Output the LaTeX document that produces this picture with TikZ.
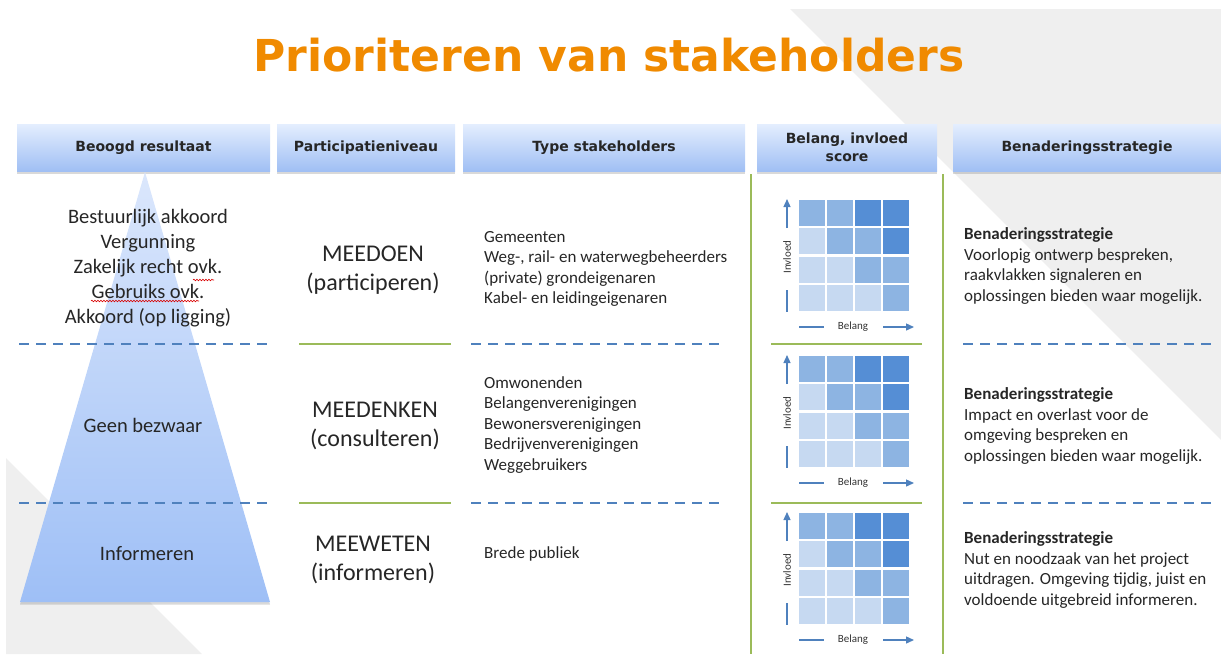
\documentclass[tikz,border=0pt]{standalone}
\usepackage{fontspec}
\setmainfont{Carlito}
\newfontfamily\verdana{DejaVu Sans}
\usetikzlibrary{arrows.meta,shadows,decorations.pathmorphing}

\definecolor{oranje}{RGB}{240,138,0}
\definecolor{bggray}{RGB}{239,239,239}
\definecolor{hdrtop}{RGB}{228,238,254}
\definecolor{hdrbot}{RGB}{160,191,244}
\definecolor{pyrtop}{RGB}{219,231,252}
\definecolor{pyrbot}{RGB}{158,191,246}
\definecolor{sepblue}{RGB}{79,129,189}
\definecolor{sepgreen}{RGB}{155,187,89}
\definecolor{scorel}{RGB}{198,217,241}
\definecolor{scorem}{RGB}{141,180,226}
\definecolor{scored}{RGB}{85,142,213}

\begin{document}
\begin{tikzpicture}[x=1pt,y=-1pt,>={Triangle[length=8pt,width=7pt]},
    header/.style={top color=hdrtop,bottom color=hdrbot,minimum height=47pt,
      align=center,text=black!85,font=\verdana\bfseries\fontsize{14}{18}\selectfont,
      drop shadow={shadow xshift=0pt,shadow yshift=-2.5pt,opacity=.3}},
    result/.style={inner sep=0pt,align=center,text=black!85,font=\fontsize{20.5}{25}\selectfont},
    level/.style={inner sep=0pt,align=center,text=black!85,font=\fontsize{24}{29}\selectfont},
    group/.style={inner sep=0pt,anchor=west,align=left,text=black!85,font=\fontsize{17}{20.5}\selectfont},
    small/.style={inner sep=0pt,text=black!80,font=\fontsize{11}{13}\selectfont},
    dashsep/.style={sepblue,line width=2.2pt,dash pattern=on 10pt off 7pt},
    greensep/.style={sepgreen,line width=2.5pt},
    axis/.style={sepblue,line width=1.3pt},
    spell/.style={red!85!black,line width=.6pt,decorate,
      decoration={snake,amplitude=.8pt,segment length=3pt}}]
\useasboundingbox (0,0) rectangle (1221,654);

% background
\fill[bggray] (790,9) -- (1221,9) -- (1221,440) -- cycle;
\fill[bggray] (6,458) -- (202,654) -- (6,654) -- cycle;

% title
\node[text=oranje,font=\verdana\bfseries\fontsize{44}{50}\selectfont,anchor=base] (title) at (609,71) {Prioriteren van stakeholders};

% headers
\node[header,minimum width=253pt] (res)   at (143.5,147.5) {Beoogd resultaat};
\node[header,minimum width=178pt] (niv)   at (366,147.5)   {Participatieniveau};
\node[header,minimum width=282pt] (typ)   at (604,147.5)   {Type stakeholders};
\node[header,minimum width=180pt] (score) at (847,147.5)   {Belang, invloed\\score};
\node[header,minimum width=268pt] (strat) at (1087,147.5)  {Benaderingsstrategie};

% pyramid
\shade[top color=pyrtop,bottom color=pyrbot,drop shadow={shadow xshift=0pt,shadow yshift=-2.5pt,opacity=.3}]
  (145,172) -- (270,602) -- (20,602) -- cycle;

% separators
\foreach \y in {344,503} {
  \draw[dashsep] (19,\y) -- (270,\y);
  \draw[dashsep] (471,\y) -- (722,\y);
  \draw[dashsep] (963,\y) -- (1215,\y);
  \draw[greensep] (299,\y) -- (451,\y);
  \draw[greensep] (771,\y) -- (922,\y);
}
\draw[greensep] (751,174) -- (751,654);
\draw[greensep] (943,174) -- (943,654);

% score grids
\foreach \gy [count=\g] in {199,355,512} {
  \foreach \row/\cells in {0/{m,m,d,d},1/{l,m,m,d},2/{l,l,m,m},3/{l,l,l,m}}
    \foreach \c [count=\col from 0] in \cells
      \fill[score\c] ({799+28*\col},{\gy+1+28.25*\row}) rectangle +(26,26.2);
  \draw[axis,->] (787,\gy+29) -- (787,\gy);
  \node[small,rotate=90] (inv\g) at (787,\gy+58) {Invloed};
  \draw[axis] (787,\gy+91) -- (787,\gy+113);
  \node[small] (bel\g) at (853,\gy+128) {Belang};
  \draw[axis] (799,\gy+128) -- (824,\gy+128);
  \draw[axis,->] (883,\gy+128) -- (914,\gy+128);
}

% column texts
\node[result] (res1) at (148,268) {Bestuurlijk akkoord\\Vergunning\\Zakelijk recht ovk.\\Gebruiks ovk.\\Akkoord (op ligging)};
\node[result] (res2) at (143,425) {Geen bezwaar};
\node[result] (res3) at (147,554) {Informeren};
\draw[spell] (193,280) -- (214,280);
\draw[spell] (91,301) -- (199,301);

\node[level] (niv1) at (373,270) {MEEDOEN\\(participeren)};
\node[level] (niv2) at (375,426) {MEEDENKEN\\(consulteren)};
\node[level] (niv3) at (373,560) {MEEWETEN\\(informeren)};

\node[group] (typ1) at (484,269) {Gemeenten\\Weg-, rail- en waterwegbeheerders\\(private) grondeigenaren\\Kabel- en leidingeigenaren};
\node[group] (typ2) at (484,425) {Omwonenden\\Belangenverenigingen\\Bewonersverenigingen\\Bedrijvenverenigingen\\Weggebruikers};
\node[group] (typ3) at (484,554) {Brede publiek};

\node[group] (str1) at (964,266) {\textbf{Benaderingsstrategie}\\Voorlopig ontwerp bespreken,\\raakvlakken signaleren en\\oplossingen bieden waar mogelijk.};
\node[group] (str2) at (964,426) {\textbf{Benaderingsstrategie}\\Impact en overlast voor de\\omgeving bespreken en\\oplossingen bieden waar mogelijk.};
\node[group] (str3) at (964,570) {\textbf{Benaderingsstrategie}\\Nut en noodzaak van het project\\uitdragen. Omgeving tijdig, juist en\\voldoende uitgebreid informeren.};
\end{tikzpicture}
\end{document}
